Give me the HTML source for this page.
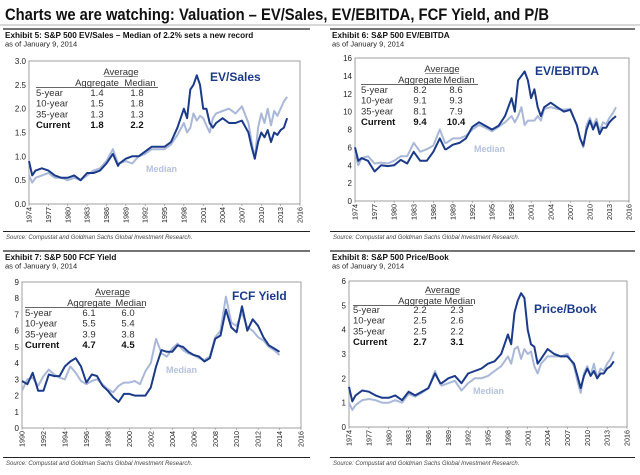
<!DOCTYPE html>
<html><head><meta charset="utf-8"><style>
body{margin:0;background:#fff;}
svg{display:block;font-family:"Liberation Sans",Arial,sans-serif;}
</style></head><body>
<svg id="root" width="640" height="475" viewBox="0 0 640 475">
<text x="5" y="20" font-size="17" font-weight="bold" fill="#111" textLength="544" lengthAdjust="spacingAndGlyphs">Charts we are watching: Valuation – EV/Sales, EV/EBITDA, FCF Yield, and P/B</text>
<line x1="0" y1="25" x2="640" y2="25" stroke="#999" stroke-width="0.8"/>
<g id="charts"></g>
</svg>
<script>
// shared years for charts 1,2,4
const yearsA = [1974,1974.5,1975,1976,1977,1978,1979,1980,1981,1982,1983,1984,1985,1986,1987,1987.8,1988,1989,1990,1991,1992,1993,1994,1995,1996,1997,1998,1998.5,1999,1999.5,2000,2000.5,2001,2001.5,2002,2002.5,2003,2004,2005,2006,2007,2008,2008.5,2009,2009.5,2010,2010.5,2011,2011.5,2012,2012.5,2013,2013.5,2014];
const evSalesAgg = [0.9,0.6,0.7,0.75,0.7,0.6,0.55,0.55,0.6,0.5,0.65,0.65,0.7,0.85,1.05,0.8,0.85,0.95,1.0,1.0,1.1,1.2,1.2,1.2,1.3,1.6,2.0,1.8,2.4,2.5,2.7,2.5,2.0,2.0,1.7,1.6,1.7,1.8,1.7,1.7,1.75,1.5,1.2,0.95,1.3,1.5,1.4,1.55,1.3,1.5,1.45,1.55,1.6,1.8];
const evSalesMed = [0.6,0.45,0.55,0.6,0.65,0.55,0.55,0.5,0.55,0.5,0.6,0.7,0.75,0.9,1.15,0.85,0.85,0.9,0.85,1.0,1.05,1.15,1.15,1.15,1.25,1.45,1.7,1.5,1.6,1.9,1.75,1.85,1.8,1.65,1.5,1.8,1.9,1.95,2.0,1.9,2.05,1.7,1.3,0.95,1.6,1.9,1.7,2.0,1.65,1.95,1.85,2.0,2.15,2.25];
const ebitdaAgg = [6,4.5,4.8,4.5,3.3,4,3.9,4,4.6,4.2,5.5,4.5,4.5,5.5,7,5.8,5.8,6.3,6.5,7,8.3,8.8,8.4,8,8.4,9.5,11.5,10,13.5,14,14.5,13.5,11.5,12.5,10.5,9.5,10.5,11,10.5,10,10.2,8.5,7,6.2,8,9,8,8.8,7.5,8.2,8.2,8.8,9.2,9.5];
const ebitdaMed = [5.5,4,4.8,5,4.2,4.3,4.2,4.5,5,5,6.5,5.5,5.8,6.2,8,6.5,6.5,7,7,7.3,8,8.5,8.2,7.8,8.3,8.8,9.5,8.8,9.5,10.5,8.5,9,9,9,9.5,9,10.3,10.5,10.3,10.2,10.3,8.5,7,6,8.5,9.3,8.3,9.2,7.8,8.8,8.6,9.3,9.8,10.5];
const pbAgg = [1.65,1.05,1.3,1.5,1.45,1.3,1.2,1.2,1.3,1.1,1.45,1.3,1.45,1.6,2.2,1.8,1.8,2.0,2.1,1.8,2.2,2.3,2.4,2.6,2.7,3.0,3.8,3.4,4.7,5.2,5.5,5.3,4.0,3.4,3.3,2.6,2.8,3.2,3.0,2.9,2.9,2.6,2.1,1.6,2.1,2.4,2.1,2.3,2.0,2.2,2.2,2.4,2.5,2.7];
const pbMed = [1.0,0.7,0.9,1.1,1.15,1.1,1.0,1.0,1.1,1.0,1.35,1.25,1.4,1.6,2.3,1.75,1.7,1.8,1.9,1.5,1.8,2.0,2.0,2.1,2.3,2.5,2.9,2.6,3.2,3.3,2.8,3.2,3.0,3.1,2.5,2.2,2.6,2.9,2.9,2.9,3.0,2.5,1.9,1.4,2.2,2.5,2.1,2.6,2.0,2.4,2.3,2.6,2.8,3.1];
const yearsF = [1990,1990.5,1991,1991.5,1992,1992.5,1993,1993.5,1994,1994.5,1995,1995.5,1996,1996.5,1997,1997.5,1998,1998.5,1999,1999.5,2000,2000.5,2001,2001.5,2002,2002.5,2003,2003.5,2004,2004.5,2005,2005.5,2006,2006.5,2007,2007.5,2008,2008.5,2009,2009.5,2010,2010.5,2011,2011.5,2012,2012.5,2013,2013.5,2014];
const fcfAgg = [2.9,2.7,3.4,2.3,2.3,3.3,3.2,3.2,3.8,4.1,4.3,3.8,2.8,3.3,3.2,2.6,2.3,1.9,1.6,2.1,2.1,2.0,2.0,2.0,2.5,3.8,4.8,4.7,4.7,5.1,5.0,4.7,4.5,4.4,4.1,4.3,5.5,5.7,7.3,6.2,5.9,7.5,6.0,6.7,6.3,5.6,5.1,4.9,4.7];
const fcfMed = [2.3,3.0,3.1,2.6,3.2,3.6,3.3,3.1,3.0,3.8,3.4,2.9,2.7,2.9,3.0,2.7,2.4,2.2,2.6,2.8,2.8,2.9,2.7,3.5,4.0,5.5,4.6,4.4,4.9,5.2,4.8,4.6,4.5,4.3,4.2,4.4,5.6,6.0,8.1,6.5,6.3,7.1,6.2,6.0,5.6,5.4,5.0,4.8,4.5];
const tickYearsA = [1974,1977,1980,1983,1986,1989,1992,1995,1998,2001,2004,2007,2010,2013,2016];
const tickYearsF = [1990,1992,1994,1996,1998,2000,2002,2004,2006,2008,2010,2012,2014,2016];
const tickY1 = [0,0.5,1,1.5,2,2.5,3];
const tickY2 = [0,2,4,6,8,10,12,14,16];
const tickY3 = [0,1,2,3,4,5,6,7,8,9];
const tickY4 = [0,1,2,3,4,5,6];
const rows1 = [["5-year","1.4","1.8"],["10-year","1.5","1.8"],["35-year","1.3","1.3"],["Current","1.8","2.2"]];
const rows2 = [["5-year","8.2","8.6"],["10-year","9.1","9.3"],["35-year","8.1","7.9"],["Current","9.4","10.4"]];
const rows3 = [["5-year","6.1","6.0"],["10-year","5.5","5.4"],["35-year","3.9","3.8"],["Current","4.7","4.5"]];
const rows4 = [["5-year","2.2","2.3"],["10-year","2.5","2.6"],["35-year","2.5","2.2"],["Current","2.7","3.1"]];

const NS="http://www.w3.org/2000/svg";
const root=document.getElementById('charts');
function mk(tag,attrs,parent,txt){const e=document.createElementNS(NS,tag);for(const k in attrs)e.setAttribute(k,attrs[k]);if(txt!==undefined)e.textContent=txt;(parent||root).appendChild(e);return e;}

const specs=[
 {key:'ev-sales',hx:3,hw:307,hy:29,title:'Exhibit 5: S&P 500 EV/Sales – Median of 2.2% sets a new record',box:[29,61,300,204],x0:1974,x1:2016,y0:0,y1:3,yt:tickY1,dec:1,xt:tickYearsA,years:yearsA,agg:evSalesAgg,med:evSalesMed,rows:rows1,tb:{lx:36,lx2:158,ay:72,v1:97,v2:137,r0:93},lab:'EV/Sales',labx:210,laby:81,medx:146,medy:172,srcLine:231.5,srcY:239},
 {key:'ev-ebitda',hx:330,hw:305,hy:29,title:'Exhibit 6: S&P 500 EV/EBITDA',box:[355,58,629,201],x0:1974,x1:2016,y0:0,y1:16,yt:tickY2,dec:0,xt:tickYearsA,years:yearsA,agg:ebitdaAgg,med:ebitdaMed,rows:rows2,tb:{lx:361,lx2:478,ay:69,v1:420,v2:456,r0:90},lab:'EV/EBITDA',labx:535,laby:75,medx:474,medy:152,srcLine:231.5,srcY:239},
 {key:'fcf-yield',hx:3,hw:307,hy:251,title:'Exhibit 7: S&P 500 FCF Yield',box:[22,282,301,428],x0:1990,x1:2016,y0:0,y1:9,yt:tickY3,dec:0,xt:tickYearsF,years:yearsF,agg:fcfAgg,med:fcfMed,rows:rows3,tb:{lx:25,lx2:145,ay:292,v1:89,v2:128,r0:313},lab:'FCF Yield',labx:232,laby:300,medx:166,medy:373,srcLine:457.5,srcY:465},
 {key:'price-book',hx:330,hw:305,hy:251,title:'Exhibit 8: S&P 500 Price/Book',box:[349,281,627,427],x0:1974,x1:2016,y0:0,y1:6,yt:tickY4,dec:0,xt:tickYearsA,years:yearsA,agg:pbAgg,med:pbMed,rows:rows4,tb:{lx:353,lx2:473,ay:290,v1:420,v2:457,r0:310},lab:'Price/Book',labx:534,laby:313,medx:473,medy:394,srcLine:457.5,srcY:465}
];

specs.forEach(s=>{
 const g=mk('g',{});
 
 
 const [L,T,R,B]=s.box;
 const sx=v=>L+(v-s.x0)/(s.x1-s.x0)*(R-L);
 const sy=v=>B-(v-s.y0)/(s.y1-s.y0)*(B-T);
 const hr=mk('line',{x1:s.hx,y1:s.hy,x2:s.hx+s.hw,y2:s.hy,stroke:'#222','stroke-width':1.3},g);
 
 
 const ti=mk('text',{x:s.hx+2,y:s.hy+9,'font-size':8.2,'font-weight':'bold',fill:'#111'},g,s.title);
 
 
 const as=mk('text',{x:s.hx+2,y:s.hy+17.5,'font-size':7.5,fill:'#222'},g,'as of January 9, 2014');
 
 
 const bx=mk('rect',{x:L,y:T,width:R-L,height:B-T,fill:'none',stroke:'#888','stroke-width':0.8},g);
 
 
 s.yt.forEach(v=>{
  const t=mk('text',{x:L-3,y:sy(v)+3,'font-size':8,'text-anchor':'end',fill:'#222'},g,v.toFixed(s.dec));
  
  
 });
 s.xt.forEach(v=>{
  const x=sx(v);
  mk('line',{x1:x,y1:B,x2:x,y2:B+2,stroke:'#888','stroke-width':0.6},g);
  const t=mk('text',{x:0,y:0,'font-size':7.2,'text-anchor':'end',fill:'#222',transform:`translate(${x+2.6},${B+3}) rotate(-90)`},g,String(v));
  
  
 });
 const path=arr=>arr.map((v,i)=>(i?'L':'M')+sx(s.years[i]).toFixed(1)+','+sy(v).toFixed(1)).join('');
 const pm=mk('path',{d:path(s.med),fill:'none',stroke:'#a9b8d8','stroke-width':2,'stroke-linejoin':'round'},g);
 
 
 const pa=mk('path',{d:path(s.agg),fill:'none',stroke:'#1b3a8a','stroke-width':2,'stroke-linejoin':'round'},g);
 
 
 const lb=mk('text',{x:s.labx,y:s.laby,'font-size':12,'font-weight':'bold',fill:'#1b3a8a'},g,s.lab);
 
 
 const ml=mk('text',{x:s.medx,y:s.medy,'font-size':9,'font-weight':'bold',fill:'#b5c2de'},g,'Median');
 
 
 const tb=s.tb, mid=(tb.v1+tb.v2)/2;
 const av=mk('text',{x:mid+4,y:tb.ay+3,'font-size':9.5,'text-anchor':'middle',fill:'#333'},g,'Average');
 
 
 mk('line',{x1:mid-13,y1:tb.ay+4.5,x2:mid+21,y2:tb.ay+4.5,stroke:'#333','stroke-width':0.6},g);
 const h1=mk('text',{x:tb.v1,y:tb.ay+14,'font-size':9.5,'text-anchor':'middle',fill:'#333'},g,'Aggregate');
 
 
 const h2=mk('text',{x:tb.v2+3,y:tb.ay+14,'font-size':9.5,'text-anchor':'middle',fill:'#333'},g,'Median');
 
 
 mk('line',{x1:tb.lx,y1:tb.ay+15.5,x2:tb.lx2,y2:tb.ay+15.5,stroke:'#333','stroke-width':0.7},g);
 s.rows.forEach((r,i)=>{
  const y=tb.r0+i*10.7+3;
  const bold=i===3?'bold':'normal';
  const col=i===3?'#111':'#333';
  const a=mk('text',{x:tb.lx,y:y,'font-size':9.5,'font-weight':bold,fill:col},g,r[0]);
  
  
  const b=mk('text',{x:tb.v1,y:y,'font-size':9.5,'font-weight':bold,'text-anchor':'middle',fill:col},g,r[1]);
  
  
  const c=mk('text',{x:tb.v2,y:y,'font-size':9.5,'font-weight':bold,'text-anchor':'middle',fill:col},g,r[2]);
  
  
 });
 const sl=mk('line',{x1:s.hx,y1:s.srcLine,x2:s.hx+s.hw,y2:s.srcLine,stroke:'#222','stroke-width':1},g);
 
 
 const src=mk('text',{x:s.hx+3,y:s.srcY,'font-size':6,'font-style':'italic',fill:'#444'},g,'Source: Compustat and Goldman Sachs Global Investment Research.');
 
 
});
</script>
</body></html>
